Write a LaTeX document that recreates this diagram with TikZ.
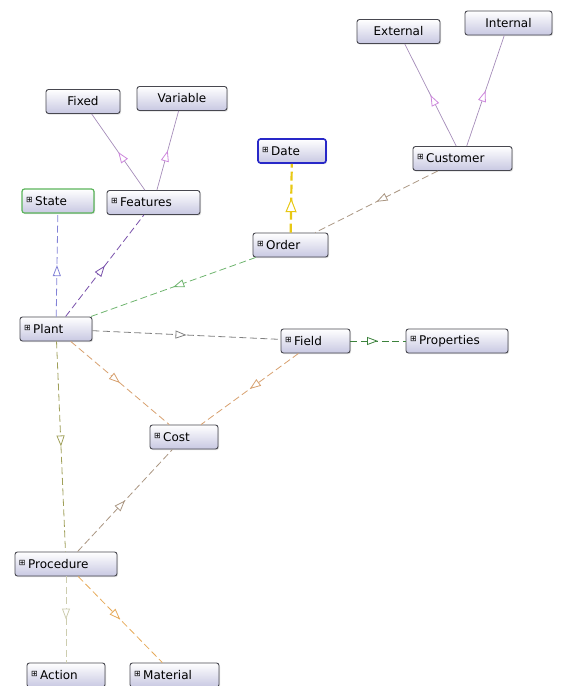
\documentclass[tikz,border=0pt]{standalone}
\usepackage{fontspec}
\setmainfont{DejaVu Sans}
\usetikzlibrary{arrows.meta, decorations.markings, shadows}
\definecolor{cBox}{RGB}{200,200,226}
\definecolor{cBorder}{RGB}{72,72,80}
\definecolor{cIsa}{RGB}{165,140,185}
\definecolor{cIsaTip}{RGB}{205,135,220}
\definecolor{cDate}{RGB}{232,200,20}
\definecolor{cSel}{RGB}{40,40,200}
\definecolor{cState}{RGB}{90,180,90}
\definecolor{cBrown}{RGB}{170,150,130}
\definecolor{cTan}{RGB}{215,160,110}
\definecolor{cOrange}{RGB}{230,170,90}
\definecolor{cGreen}{RGB}{110,180,110}
\definecolor{cDkGreen}{RGB}{60,130,60}
\definecolor{cBlue}{RGB}{130,130,215}
\definecolor{cPurple}{RGB}{120,80,170}
\definecolor{cOlive}{RGB}{160,160,90}
\definecolor{cPale}{RGB}{205,205,175}
\newcommand{\xp}{\raisebox{3pt}{\fontsize{8}{8}\selectfont ⊞}\kern2.5pt}
\tikzset{
	cls/.style     ={rectangle, rounded corners=2.5pt, draw=cBorder, line width=0.9pt, top color=white, bottom color=cBox, minimum height=24pt, inner xsep=4pt, inner ysep=0pt, text width=#1, drop shadow={shadow xshift=1pt, shadow yshift=-1.2pt, opacity=0.25}},
	leaf/.style    ={align=center},
	% edges with an open triangle half way
	mid/.style     ={postaction=decorate, decoration={markings, mark=at position 0.5 with {\arrow{Triangle[open, color=#1, fill=white, length=11pt, width=8pt, line width=0.8pt]}}}},
	isa/.style     ={draw=cIsa, line width=0.7pt, mid=cIsaTip},
	rel/.style     ={draw=#1, line width=0.8pt, dash pattern=on 7pt off 3.5pt, mid=#1},
	bigmid/.style  ={postaction=decorate, decoration={markings, mark=at position 0.5 with {\arrow{Triangle[open, color=#1, fill=white, length=14pt, width=11pt, line width=1pt]}}}},
}

\begin{document}
\begin{tikzpicture}[x=1pt, y=-1pt, font=\fontsize{12}{14}\selectfont]
	\useasboundingbox (0,0) rectangle (566,686);
	% classes
	\node[cls=75pt, leaf] (external) at (398.5,31.5) {External};
	\node[cls=79pt, leaf] (internal) at (508.5,23) {Internal};
	\node[cls=66pt, leaf] (fixed) at (83,101.5) {Fixed};
	\node[cls=82pt, leaf] (variable) at (182,98.5) {Variable};
	\node[cls=60pt, draw=cSel, line width=1.6pt] (date) at (292,151) {\xp Date};
	\node[cls=91pt] (customer) at (462.5,158.5) {\xp Customer};
	\node[cls=64pt, draw=cState, line width=1.2pt] (state) at (58,201) {\xp State};
	\node[cls=85pt] (features) at (153.5,202.5) {\xp Features};
	\node[cls=67pt] (order) at (290.5,245) {\xp Order};
	\node[cls=64pt] (plant) at (56,329) {\xp Plant};
	\node[cls=61pt] (field) at (315.5,341) {\xp Field};
	\node[cls=94pt] (properties) at (457,341) {\xp Properties};
	\node[cls=60pt] (cost) at (184,437) {\xp Cost};
	\node[cls=94pt] (procedure) at (66,564) {\xp Procedure};
	\node[cls=70pt] (action) at (66,675) {\xp Action};
	\node[cls=81pt] (material) at (174.5,675) {\xp Material};
	% subclass links
	\draw[isa] (features) -- (fixed);
	\draw[isa] (features) -- (variable);
	\draw[isa] (customer) -- (external);
	\draw[isa] (customer) -- (internal);
	% properties
	\draw[draw=cDate, line width=2.2pt, dash pattern=on 9pt off 4pt, bigmid=cDate] (order) -- (date);
	\draw[rel=cBrown] (customer) -- (order);
	\draw[rel=cBlue] (plant) -- (state);
	\draw[rel=cPurple] (plant) -- (features);
	\draw[rel=cGreen] (order) -- (plant);
	\draw[rel=gray] (plant) -- (field);
	\draw[rel=cDkGreen] (field) -- (properties);
	\draw[rel=cTan] (plant) -- (cost);
	\draw[rel=cTan] (field) -- (cost);
	\draw[rel=cOlive] (plant) -- (procedure);
	\draw[rel=cBrown] (procedure) -- (cost);
	\draw[rel=cPale] (procedure) -- (action);
	\draw[rel=cOrange] (procedure) -- (material);
\end{tikzpicture}
\end{document}
